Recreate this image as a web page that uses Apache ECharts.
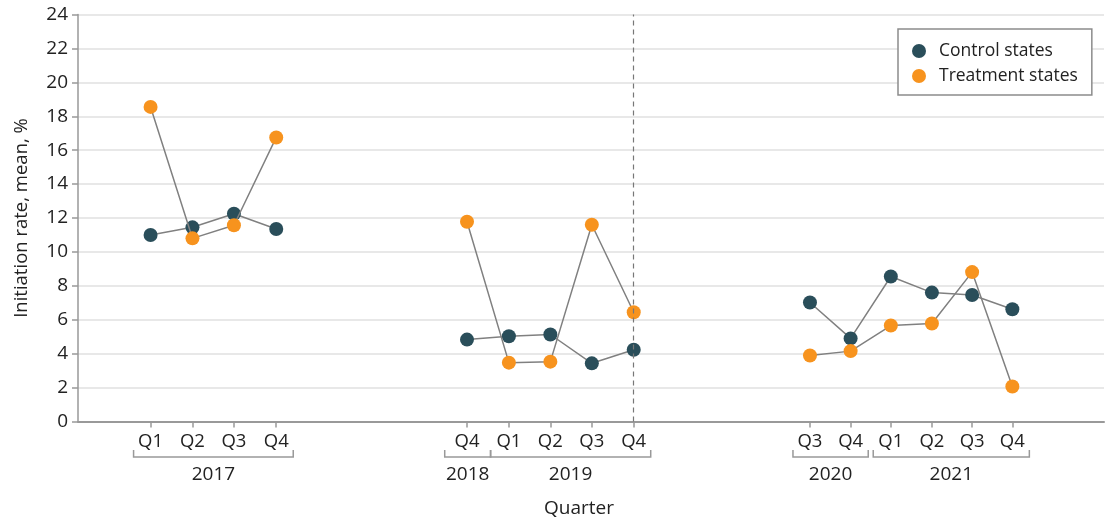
<!DOCTYPE html>
<html>
<head>
<meta charset="utf-8">
<script src="https://cdn.jsdelivr.net/npm/echarts@6/dist/echarts.min.js"></script>
<style>
html,body{margin:0;padding:0;background:#fff;}
#chart{width:1120px;height:529px;}
</style>
</head>
<body>
<div id="chart"></div>
<script>
// ---- data ----
const quarters = ['Q1','Q2','Q3','Q4','Q4','Q1','Q2','Q3','Q4','Q3','Q4','Q1','Q2','Q3','Q4'];
const years    = ['2017','2017','2017','2017','2018','2019','2019','2019','2019','2020','2020','2021','2021','2021','2021'];
// position of each quarter on the (gapped) horizontal axis, in quarter-widths
const xPos     = [1.75,2.76,3.76,4.78, 9.38,10.39,11.39,12.39,13.40, 17.65,18.63,19.60,20.59,21.56,22.53];
const segment  = [0,0,0,0, 1,1,1,1,1, 2,2,2,2,2,2];
const control   = [11.0,11.45,12.25,11.35, 4.83,5.03,5.13,3.43,4.23, 7.02,4.90,8.55,7.60,7.46,6.62];
const treatment = [18.55,10.8,11.57,16.75, 11.78,3.47,3.53,11.6,6.44, 3.89,4.15,5.66,5.78,8.81,2.06];
const policyIndex = 8; // 2019 Q4 dashed line
const yTicks = [0,2,4,6,8,10,12,14,16,18,20,22,24];
const xMax = 24.74;

const FONT = '"Open Sans", "Noto Sans", sans-serif';
const TEXT = '#222222';
const AXIS = '#999999';
const CONTROL_COLOR = '#2a4e5a';
const TREAT_COLOR = '#f7931e';

const chart = echarts.init(document.getElementById('chart'));

function seg(vals, s) {
  const out = [];
  for (let i = 0; i < vals.length; i++) if (segment[i] === s) out.push([xPos[i], vals[i]]);
  return out;
}
const series = [];
for (let s = 0; s < 3; s++) {
  series.push({
    type: 'line', name: 'Control states', data: seg(control, s),
    symbol: 'circle', symbolSize: 14, z: 2,
    itemStyle: {color: CONTROL_COLOR},
    lineStyle: {color: '#808080', width: 1.5},
    animation: false,
    markLine: s === 1 ? {
      silent: true, symbol: ['none','none'], label: {show: false},
      lineStyle: {type: [5,4], color: '#777', width: 1.2},
      data: [{xAxis: xPos[policyIndex]}], animation: false
    } : undefined
  });
}
for (let s = 0; s < 3; s++) {
  series.push({
    type: 'line', name: 'Treatment states', data: seg(treatment, s),
    symbol: 'circle', symbolSize: 14, z: 3,
    itemStyle: {color: TREAT_COLOR},
    lineStyle: {color: '#808080', width: 1.5},
    animation: false
  });
}

function nearestIdx(v) {
  let best = 0, bd = Infinity;
  xPos.forEach((p, i) => { const d = Math.abs(p - v); if (d < bd) { bd = d; best = i; } });
  return best;
}

chart.setOption({
  backgroundColor: '#fff',
  animation: false,
  textStyle: {fontFamily: FONT},
  grid: {left: 78, right: 16, top: 14.5, bottom: 107.5, containLabel: false},
  legend: {
    data: ['Control states', 'Treatment states'],
    orient: 'vertical', left: 898, top: 29,
    icon: 'circle', itemWidth: 14, itemHeight: 14, itemGap: 7,
    padding: [13, 14, 10, 14],
    borderColor: '#8c8c8c', borderWidth: 1.5, borderRadius: 0,
    backgroundColor: '#fff',
    textStyle: {fontFamily: FONT, fontSize: 17.5, color: TEXT, lineHeight: 18, padding: [0,0,0,8]},
    selectedMode: false
  },
  xAxis: {
    type: 'value', min: 0, max: xMax,
    axisLine: {show: true, lineStyle: {color: AXIS, width: 2}},
    axisTick: {show: true, customValues: xPos, length: 6, lineStyle: {color: AXIS, width: 1.5}},
    axisLabel: {
      show: true, customValues: xPos, margin: 11,
      fontFamily: FONT, fontSize: 18.5, color: TEXT,
      formatter: v => quarters[nearestIdx(v)]
    },
    splitLine: {show: false}
  },
  yAxis: {
    type: 'value', min: 0, max: 24, interval: 2,
    name: 'Initiation rate, mean, %', nameLocation: 'middle', nameGap: 47,
    nameTextStyle: {fontFamily: FONT, fontSize: 18.5, color: TEXT},
    axisLine: {show: true, lineStyle: {color: AXIS, width: 1.5}},
    axisTick: {show: true, length: 6, lineStyle: {color: AXIS, width: 1.5}},
    axisLabel: {fontFamily: FONT, fontSize: 19, color: TEXT, margin: 10,
      formatter: v => yTicks.indexOf(v) >= 0 ? String(v) : ''},
    splitLine: {show: true, lineStyle: {color: '#e8e8e8', width: 2}}
  },
  series: series
});

// ---- year brackets below the quarter labels ----
function px(v) { return chart.convertToPixel({xAxisIndex: 0}, v); }
const groups = [];
years.forEach((y, i) => {
  const g = groups[groups.length - 1];
  if (g && g.year === y && segment[g.last] === segment[i]) g.last = i;
  else groups.push({year: y, first: i, last: i});
});
const graphics = [];
const bracketY = 457, bracketTop = 450, yearY = 475;
groups.forEach(g => {
  const f = px(xPos[g.first]), l = px(xPos[g.last]);
  let left = f - 17, right = l + 17;
  const prev = g.first - 1, next = g.last + 1;
  if (prev >= 0 && segment[prev] === segment[g.first]) left = (px(xPos[prev]) + f) / 2 + 2.5;
  if (next < xPos.length && segment[next] === segment[g.last]) right = (px(xPos[next]) + l) / 2 - 2.5;
  const minW = 46;
  if (right - left < minW) { const c = (left + right) / 2; left = c - minW / 2; right = c + minW / 2; }
  graphics.push({
    type: 'polyline', silent: true,
    shape: {points: [[left, bracketTop], [left, bracketY], [right, bracketY], [right, bracketTop]]},
    style: {stroke: AXIS, lineWidth: 1.5, fill: null}
  });
  graphics.push({
    type: 'text', silent: true, x: (left + right) / 2, y: yearY,
    style: {text: g.year, font: '19px ' + FONT, fill: TEXT, align: 'center', verticalAlign: 'middle'}
  });
});
graphics.push({
  type: 'text', silent: true, x: 579, y: 509,
  style: {text: 'Quarter', font: '19px ' + FONT, fill: TEXT, align: 'center', verticalAlign: 'middle'}
});
chart.setOption({graphic: graphics});
</script>
</body>
</html>
